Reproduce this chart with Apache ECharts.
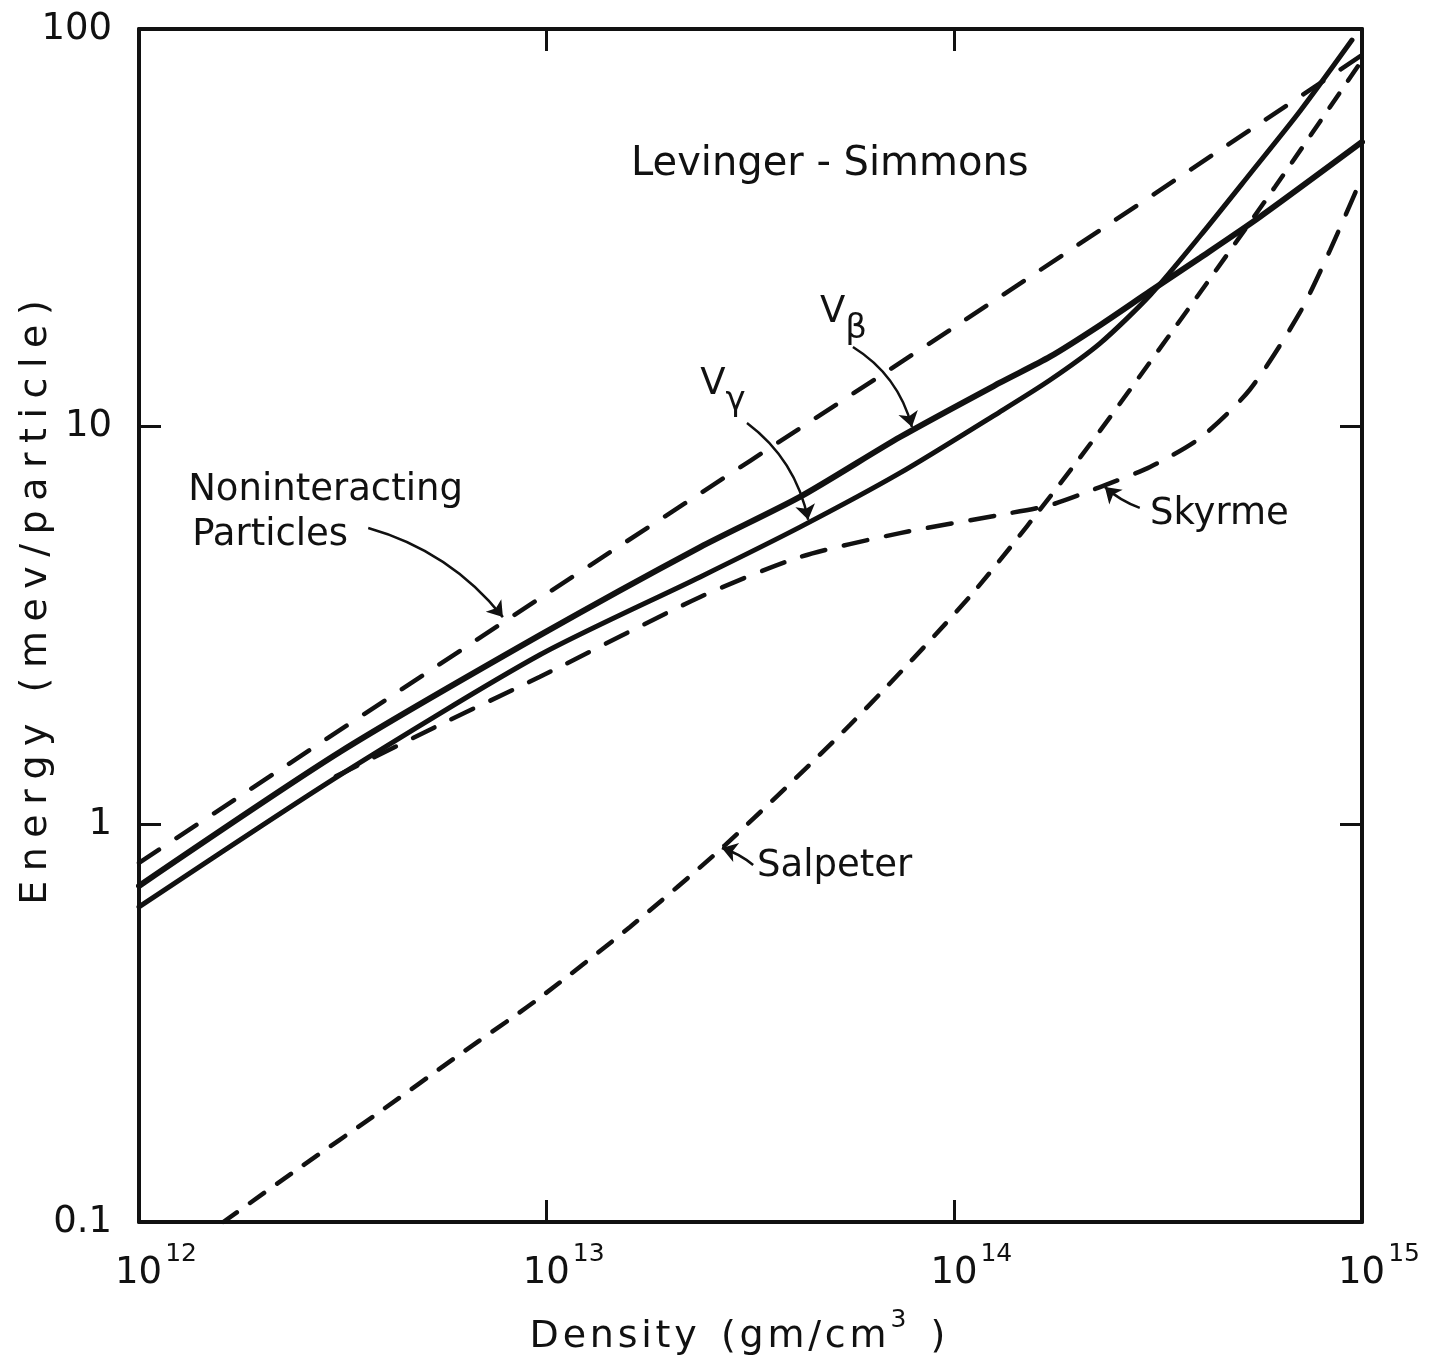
<!DOCTYPE html>
<html>
<head>
<meta charset="utf-8">
<title>Levinger-Simmons energy per particle</title>
<script src="https://cdn.jsdelivr.net/npm/echarts@6/dist/echarts.min.js"></script>
<style>
  html, body { margin: 0; padding: 0; background: #fff; }
  #chart { width: 1435px; height: 1361px; }
</style>
</head>
<body>
<div id="chart"></div>
<script>
// Axis ranges (log scales)
const densityRange = [1e12, 1e15];
const energyRange = [0.1, 100];
const energyTickText = { '0.1': '0.1', '1': '1', '10': '10', '100': '100' };

// Energy per particle (MeV) versus density (g/cm^3): [density, energy]
const nonInteracting = [[1e12, 0.80], [1e13, 3.8], [1e14, 17.8], [1e15, 86]];

const vBeta = [
  [1e12, 0.70], [3.11e12, 1.52], [9.63e12, 2.99], [2.38e13, 4.98], [4.18e13, 6.66],
  [7.36e13, 9.42], [1.294e14, 12.9], [1.717e14, 15.0], [2.277e14, 18.0], [3.02e14, 21.9],
  [4.01e14, 26.6], [5.62e14, 33.7], [1e15, 52]
];

const vGamma = [
  [1e12, 0.62], [3.11e12, 1.33], [9.63e12, 2.67], [2.38e13, 4.19], [4.18e13, 5.59],
  [7.36e13, 7.65], [1.294e14, 10.9], [1.717e14, 13.1], [2.277e14, 16.2], [3.02e14, 21.4],
  [4.01e14, 30.2], [5.31e14, 43.2], [7.05e14, 62.2], [9.45e14, 93.8]
];

const skyrme = [
  [3.04e12, 1.32], [5.35e12, 1.76], [9.63e12, 2.35], [2.38e13, 3.73], [4.18e13, 4.70],
  [7.36e13, 5.40], [1.294e14, 6.00], [1.717e14, 6.35], [2.277e14, 7.05], [3.02e14, 7.92],
  [4.01e14, 9.37], [5.31e14, 12.4], [7.05e14, 19.4], [8.35e14, 27.8], [1e15, 42.4]
];

const salpeter = [
  [1.61e12, 0.100], [2.48e12, 0.137], [3.86e12, 0.188], [6.06e12, 0.262], [9.47e12, 0.362],
  [1.601e13, 0.552], [2.74e13, 0.887], [5.55e13, 1.78], [1.111e14, 3.82], [2.03e14, 8.34],
  [3.74e14, 19.7], [6.12e14, 40.1], [9.78e14, 80.7]
];

// Curve labels: [text, density, energy, placement]
const curveLabels = [
  ['Levinger - Simmons', 4.95e13, 45.5, 'inside'],
  ['Noninteracting', 1.32e12, 6.93, 'right'],
  ['Particles', 1.35e12, 5.34, 'right'],
  ['Skyrme', 3.02e14, 6.00, 'right'],
  ['Salpeter', 3.28e13, 0.786, 'right'],
  ['{v|V}{s|β}', 4.68e13, 18.55, 'right'],
  ['{v|V}{s|γ}', 2.38e13, 12.22, 'right']
];

// Pointer arrows: [from density, from energy, to density, to energy, curveness]
const pointers = [
  [3.65e12, 5.56, 7.81e12, 3.32, 0.16],
  [5.64e13, 15.86, 7.87e13, 9.98, 0.2],
  [3.10e13, 10.21, 4.38e13, 5.83, 0.19],
  [2.85e14, 6.25, 2.34e14, 7.05, 0.1],
  [3.21e13, 0.790, 2.69e13, 0.872, -0.1]
];

const INK = '#111';
const FONT = '"DejaVu Sans", "Noto Sans", sans-serif';
const FS = 37;

// widen the hand-lettered axis titles a little
const spaced = (s, gap) => Array.from(s).join(gap);

const chart = echarts.init(document.getElementById('chart'), null, { renderer: 'canvas' });

function logAxis(kind, pos, range, withLabels) {
  const ax = {
    type: 'log',
    logBase: 10,
    min: range[0],
    max: range[1],
    position: pos,
    splitNumber: 3,
    axisLine: { show: true, lineStyle: { color: INK, width: 4 } },
    axisTick: { show: true, inside: true, length: 22, lineStyle: { color: INK, width: 3 } },
    minorTick: { show: false },
    splitLine: { show: false },
    minorSplitLine: { show: false },
    axisLabel: { show: false }
  };
  if (withLabels && kind === 'x') {
    ax.axisLabel = {
      show: true,
      margin: 20,
      padding: [0, 0, 0, 34],
      formatter: v => '{b|10}{s|' + Math.round(Math.log10(v)) + '}',
      rich: {
        b: { fontFamily: FONT, fontSize: FS, color: INK, lineHeight: 50, verticalAlign: 'bottom' },
        s: { fontFamily: FONT, fontSize: 25, color: INK, lineHeight: 50, verticalAlign: 'top', padding: [0, 0, 0, 3] }
      }
    };
  }
  if (withLabels && kind === 'y') {
    ax.axisLabel = {
      show: true,
      margin: 27,
      fontFamily: FONT,
      fontSize: FS,
      color: INK,
      formatter: v => energyTickText[String(+v.toPrecision(3))] || String(v)
    };
  }
  return ax;
}

const HAIR = '\u200A';
const xBottom = logAxis('x', 'bottom', densityRange, true);
xBottom.name = '{t|' + spaced('Density', HAIR) + '  ' + spaced('(gm/cm', HAIR) + '}{s|3}{t|  )}';
xBottom.nameLocation = 'middle';
xBottom.nameGap = 86;
xBottom.nameMoveOverlap = false;
xBottom.nameTextStyle = {
  padding: [0, 26, 0, 0],
  rich: {
    t: { fontFamily: FONT, fontSize: 38, color: INK, lineHeight: 48, verticalAlign: 'bottom' },
    s: { fontFamily: FONT, fontSize: 25, color: INK, lineHeight: 48, verticalAlign: 'top', padding: [0, 0, 0, 4] }
  }
};

const yLeft = logAxis('y', 'left', energyRange, true);
yLeft.name = spaced('Energy (mev/particle)', '\u2005');
yLeft.nameLocation = 'middle';
yLeft.nameGap = 84;
yLeft.nameMoveOverlap = false;
yLeft.nameRotate = 90;
yLeft.nameTextStyle = { fontFamily: FONT, fontSize: 38, color: INK, padding: [0, 0, 0, 46] };

function curve(name, data, width, dash) {
  return {
    name: name,
    type: 'line',
    data: data,
    showSymbol: false,
    symbol: 'none',
    smooth: 0.25,
    clip: true,
    silent: true,
    lineStyle: { color: INK, width: width, type: dash || 'solid', cap: 'round' }
  };
}

const option = {
  backgroundColor: '#fff',
  animation: false,
  grid: { left: 139, right: 73, top: 29, bottom: 139, outerBoundsMode: 'none', containLabel: false },
  xAxis: [xBottom, logAxis('x', 'top', densityRange, false)],
  yAxis: [yLeft, logAxis('y', 'right', energyRange, false)],
  series: [
    curve('Noninteracting Particles', nonInteracting, 4.5, [24, 21]),
    curve('V_beta', vBeta, 6, 'solid'),
    curve('V_gamma', vGamma, 5, 'solid'),
    curve('Skyrme', skyrme, 4.5, [24, 19]),
    curve('Salpeter', salpeter, 4.5, [17, 16]),
    {
      // curved pointers from each caption to its curve
      name: 'pointers',
      type: 'lines',
      coordinateSystem: 'cartesian2d',
      silent: true,
      symbol: ['none', 'arrow'],
      symbolSize: 15,
      lineStyle: { color: INK, width: 2.5, opacity: 1 },
      data: pointers.map(([x1, y1, x2, y2, c]) => ({
        coords: [[x1, y1], [x2, y2]],
        lineStyle: { curveness: c }
      }))
    },
    {
      name: 'labels',
      type: 'scatter',
      data: [],
      silent: true,
      markPoint: {
        silent: true,
        symbol: 'circle',
        symbolSize: 0,
        itemStyle: { color: 'transparent' },
        data: curveLabels.map(([text, x, y, pos]) => ({
          coord: [x, y],
          label: {
            show: true,
            position: pos,
            distance: 0,
            formatter: text,
            fontFamily: FONT,
            fontSize: pos === 'inside' ? 40 : FS,
            color: INK,
            rich: {
              v: { fontFamily: FONT, fontSize: FS, color: INK, lineHeight: 52, verticalAlign: 'top' },
              s: { fontFamily: FONT, fontSize: 34, color: INK, lineHeight: 52, verticalAlign: 'bottom' }
            }
          }
        }))
      }
    }
  ]
};

chart.setOption(option);
</script>
</body>
</html>
